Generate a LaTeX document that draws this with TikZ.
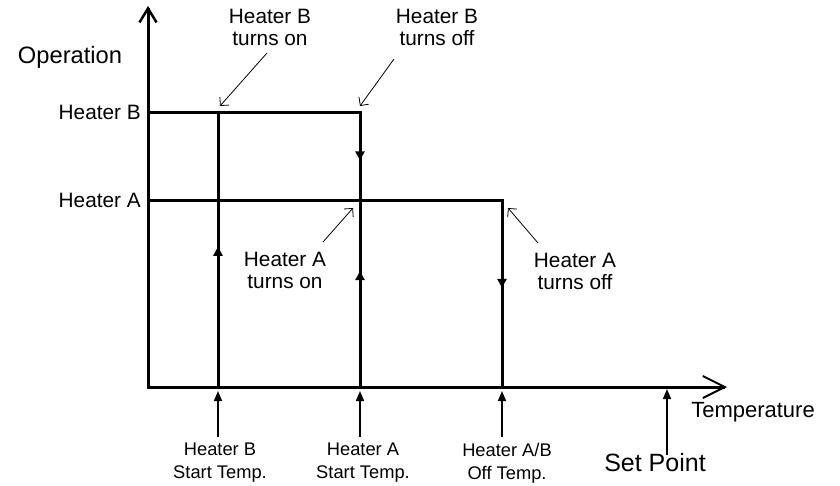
\documentclass[tikz,border=0pt]{standalone}
\usepackage{fontspec}
\setmainfont{Liberation Sans}
\usetikzlibrary{positioning,arrows.meta,decorations.markings}

\begin{document}
\begin{tikzpicture}[
  x=1pt, y=-1pt,
  every node/.style={inner sep=0pt, align=center},
  axis/.style={line width=3pt, line cap=rect},
  level/.style={line width=3pt, line cap=rect},
  flowmark/.style={postaction={decorate}, decoration={markings,
    mark=at position #1 with {\arrow{Triangle[length=9pt,width=9pt]}}}},
  callout/.style={line width=0.8pt, -{Straight Barb[length=6pt,width=12pt]}},
  pointer/.style={line width=1.6pt, -{Triangle[length=10pt,width=8pt]}},
  lvllbl/.style={font=\fontsize{20.8}{23}\selectfont, anchor=east},
  biglbl/.style={font=\fontsize{22}{24}\selectfont},
  note/.style={font=\fontsize{20.8}{22}\selectfont},
  templbl/.style={font=\fontsize{18.3}{23}\selectfont},
]
  \useasboundingbox (0,0) rectangle (840,485);

  % Axes
  \coordinate (O)    at (148,387);
  \coordinate (ytop) at (148,6);
  \coordinate (xend) at (727,387);
  \draw[axis, -{Straight Barb[length=14pt,width=17pt,line width=2.5pt]}] (O) -- (ytop);
  \draw[axis, -{Straight Barb[length=22pt,width=22pt,line width=2pt]}]   (O) -- (xend);

  \node[biglbl, font=\fontsize{23.7}{26}\selectfont] (opLbl) at (70,57) {Operation};
  \node[biglbl] (tempLbl) at (753,412)  {Temperature};
  \node[lvllbl] (lvlB)    at (141,112)  {Heater B};
  \node[lvllbl] (lvlA)    at (141,200)  {Heater A};

  % Operation levels
  \coordinate (bl)   at (148,112);
  \coordinate (al)   at (148,200);
  \coordinate (bOn)  at (218,387);
  \coordinate (bTop) at (218,112);
  \coordinate (aOn)  at (360,387);
  \coordinate (aMid) at (360,200);
  \coordinate (aTop) at (360,112);
  \coordinate (off)  at (502,387);
  \coordinate (offT) at (502,200);

  \draw[level] (bl) -- (aTop);
  \draw[level] (al) -- (offT);
  \draw[level, flowmark=0.51] (bOn)  -- (bTop);
  \draw[level, flowmark=0.62] (aOn)  -- (aMid);
  \draw[level, flowmark=0.55] (aTop) -- (aMid);
  \draw[level, flowmark=0.47] (offT) -- (off);

  % Switching notes
  \node[note] (bOnLbl)  at (270,27)  {Heater B\\turns on};
  \node[note] (bOffLbl) at (437,27)  {Heater B\\turns off};
  \node[note] (aOnLbl)  at (285,270) {Heater A\\turns on};
  \node[note] (aOffLbl) at (575,271) {Heater A\\turns off};

  \coordinate (bOnS)  at (267,53);
  \coordinate (bOnE)  at (220,106);
  \coordinate (bOffS) at (394,59);
  \coordinate (bOffE) at (360,106);
  \coordinate (aOnS)  at (323,242);
  \coordinate (aOnE)  at (353,208);
  \coordinate (aOffS) at (538,243);
  \coordinate (aOffE) at (508,208);

  \draw[callout] (bOnS)  -- (bOnE);
  \draw[callout] (bOffS) -- (bOffE);
  \draw[callout] (aOnS)  -- (aOnE);
  \draw[callout] (aOffS) -- (aOffE);

  % Temperatures below the axis
  \node[templbl] (bStart) at (220,463) {Heater B\\Start Temp.};
  \node[templbl] (aStart) at (363,463) {Heater A\\Start Temp.};
  \node[templbl] (offLbl) at (507,463) {Heater A/B\\Off Temp.};
  \node[font=\fontsize{25}{28}\selectfont] (spLbl) at (655,463) {Set Point};

  \coordinate (bStartT) at (218,391);
  \coordinate (bStartB) at (218,437);
  \coordinate (aStartT) at (360,391);
  \coordinate (aStartB) at (360,437);
  \coordinate (offT2)   at (502,391);
  \coordinate (offB)    at (502,437);
  \coordinate (spT)     at (667,389);
  \coordinate (spB)     at (667,455);

  \draw[pointer] (bStartB) -- (bStartT);
  \draw[pointer] (aStartB) -- (aStartT);
  \draw[pointer] (offB)    -- (offT2);
  \draw[pointer] (spB)     -- (spT);
\end{tikzpicture}
\end{document}
